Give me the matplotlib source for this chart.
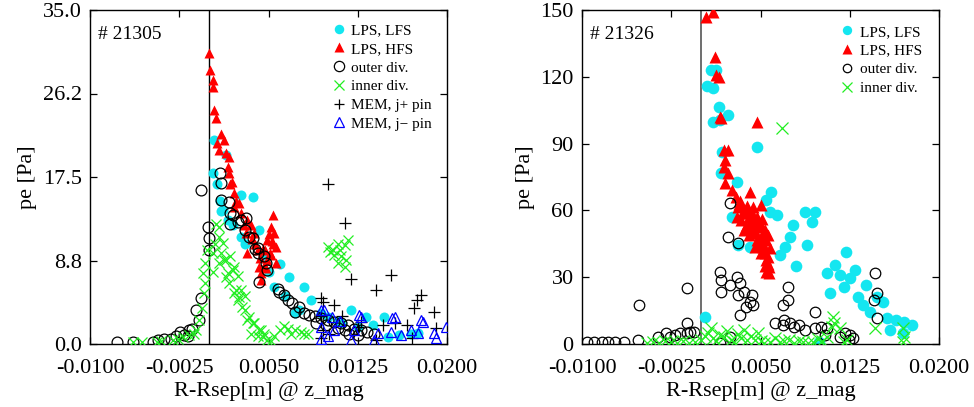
import matplotlib
matplotlib.use("Agg")
import matplotlib.pyplot as plt
from matplotlib.ticker import FixedLocator, FixedFormatter

plt.rcParams['font.family'] = ['Liberation Serif', 'DejaVu Serif']

# ---------------- shot 21305 (left) ----------------
l_lfs_x = [0.0003,0.0004,0.0007,0.0010,0.0012,0.0014,0.0027,0.0037,0.0027,0.0030,0.0042,0.0060,0.0067,0.0080,0.0086,
           0.0072,0.0064,0.0076,0.0094,0.0100,0.0108,0.0119,0.0132,0.0147,0.0150,0.0170,0.0160,0.0125,0.0112,0.0055,
           0.0050,0.0045,0.0020,0.0016,0.0009,0.0176,0.0138]
l_lfs_y = [17.9,21.4,16.8,13.9,14.0,19.8,15.6,15.4,11.2,10.5,11.9,8.4,7.0,6.0,4.6,
           3.2,5.0,3.6,3.3,2.8,2.4,3.6,2.8,2.8,0.7,1.1,0.9,1.8,2.2,6.0,
           7.5,9.0,12.5,13.0,15.0,1.2,2.0]

l_hfs_x = [0.0000,0.0001,0.0003,0.0003,0.0004,0.0006,0.0007,0.0013,0.0008,0.0017,0.0016,0.0017,0.0018,0.0021,0.0021,
           0.0027,0.0032,0.0031,0.0038,0.0032,0.0041,0.0042,0.0044,0.0044,0.0049,0.0049,0.0052,0.0054,0.0055,0.0056,
           0.0056,0.0035,0.0025,0.0047,0.0051,0.0053,0.0046,0.0039,0.0010,0.0014,
           0.0045,0.0048,0.0052,0.0054,0.0050,0.0043,0.0036,0.0029,0.0023,0.0019]
l_hfs_y = [30.5,28.7,27.7,26.9,24.5,23.7,21.1,21.4,20.3,19.6,18.6,17.9,16.8,15.8,14.4,
           13.7,13.0,11.6,11.6,9.5,9.9,8.1,7.4,6.7,8.8,10.9,12.3,13.5,11.6,10.2,
           8.5,12.5,14.8,9.8,9.5,10.8,8.2,10.5,22.0,20.0,
           10.0,8.0,9.3,10.5,11.5,9.0,11.0,12.5,15.0,17.0]

l_out_x = [-0.0077,-0.0064,-0.0047,-0.0043,-0.0038,-0.0032,-0.0028,-0.0024,-0.0021,-0.0018,-0.0017,-0.0014,-0.0011,-0.0008,
           -0.0007,-0.0007,-0.0001,0.0000,0.0000,0.0009,0.0010,0.0010,0.0017,0.0018,0.0018,0.0020,0.0024,0.0027,0.0031,
           0.0030,0.0034,0.0037,0.0039,0.0041,0.0041,0.0046,0.0048,0.0049,0.0042,0.0058,0.0059,0.0063,0.0066,0.0070,
           0.0072,0.0076,0.0080,0.0084,0.0089,0.0094,0.0100,0.0105,0.0111,0.0117,0.0122,0.0128,0.0133,0.0139,0.0118,
           0.0125,0.0090,0.0098,0.0108,0.0114]
l_out_y = [0.2,0.2,0.2,0.4,0.5,0.5,0.8,1.3,0.9,0.8,1.5,1.6,3.6,2.5,
           4.8,16.1,12.3,11.1,9.9,17.9,16.9,15.1,14.9,13.7,12.6,13.5,12.8,13.0,13.2,
           11.9,11.2,11.1,10.0,9.5,10.1,9.2,8.5,7.8,6.5,5.8,5.5,5.1,4.6,4.3,
           3.4,3.9,3.2,3.0,2.9,2.7,2.5,2.3,2.2,2.0,1.6,1.5,1.3,1.1,1.1,
           0.9,2.2,2.0,1.7,1.5]

l_inn_x = [-0.0064,-0.0056,-0.0044,-0.0030,-0.0022,-0.0017,-0.0011,-0.0008,-0.0006,-0.0004,-0.0003,-0.0005,-0.0003,-0.0002,
           -0.0040,-0.0026,-0.0013,
           0.0003,0.0008,0.0008,0.0012,0.0008,0.0014,0.0020,0.0014,0.0017,0.0023,0.0025,0.0028,0.0034,0.0037,0.0042,
           0.0045,0.0006,0.0010,0.0013,0.0018,0.0021,0.0016,0.0024,0.0027,0.0021,0.0030,0.0024,0.0030,0.0032,0.0038,
           0.0044,0.0046,0.0035,0.0041,0.0049,0.0055,0.0060,0.0066,0.0072,0.0077,0.0083,0.0080,0.0069,0.0063,0.0052,
           0.0003,0.0005,
           0.0100,0.0104,0.0108,0.0114,0.0105,0.0111,0.0115,0.0108,0.0114,0.0117,0.0102,0.0110]
l_inn_y = [0.2,0.2,0.2,0.4,0.7,0.9,1.5,2.5,3.8,5.3,6.4,7.4,8.5,9.8,
           0.3,0.5,1.0,
           9.5,12.3,11.2,10.6,8.5,8.8,7.8,7.0,6.4,5.7,4.9,3.9,2.8,2.2,1.5,
           0.7,12.6,9.5,8.8,9.2,8.1,7.4,7.1,5.7,5.3,5.0,4.6,3.6,2.5,2.2,
           1.5,1.1,1.1,0.8,0.4,0.8,1.5,1.6,1.5,1.3,1.1,1.1,1.0,1.9,0.3,
           7.5,10.5,
           10.2,9.9,10.5,10.4,9.3,9.2,8.8,8.5,8.1,10.9,9.6,9.8]

l_memp_x = [0.0100,0.0114,0.0119,0.0153,0.0140,0.0178,0.0175,0.0172,0.0189,0.0191,0.0094,0.0096,0.0105,0.0112,0.0146,
            0.0156,0.0166,0.0171,0.0140,0.0128,0.0096,0.0094,0.0094,0.0101,0.0125]
l_memp_y = [16.8,12.7,6.8,7.2,5.7,5.1,4.6,3.8,3.4,1.7,4.8,4.4,4.1,2.9,2.0,
            2.2,2.0,0.6,0.4,2.3,1.5,0.6,2.9,1.1,1.8]

l_memm_x = [0.0094,0.0097,0.0103,0.0105,0.0094,0.0128,0.0122,0.0142,0.0153,0.0156,0.0161,0.0170,0.0176,0.0180,0.0189,
            0.0191,0.0199,0.0119,0.0139,0.0126,0.0154,0.0178,0.0094,0.0110,0.0100]
l_memm_y = [1.8,3.6,2.8,1.5,0.5,2.8,1.5,1.2,1.3,2.8,0.9,1.5,1.2,2.3,1.2,
            0.6,1.8,0.4,0.4,3.0,2.7,2.5,3.6,2.4,0.8]

# ---------------- shot 21326 (right) ----------------
r_lfs_x = [0.0003,0.0005,0.0008,0.0013,0.0010,0.0015,0.0010,0.0016,0.0023,0.0018,0.0017,0.0030,0.0026,0.0031,0.0041,
           0.0047,0.0059,0.0055,0.0058,0.0064,0.0077,0.0075,0.0071,0.0066,0.0080,0.0087,0.0096,0.0093,0.0089,0.0106,
           0.0108,0.0113,0.0117,0.0120,0.0122,0.0125,0.0129,0.0132,0.0136,0.0139,0.0142,0.0148,0.0153,0.0156,0.0159,
           0.0164,0.0171,0.0177,0.0170,0.0099]
r_lfs_y = [12.3,116,123,123,115,106.6,99.8,100.6,102.8,86.2,76.8,72.9,57.2,44.5,43.6,
           88.6,68.4,64.7,59.4,57.9,53.4,48.2,43.7,40.0,35.0,59.4,59.4,54.9,44.5,31.9,
           22.8,35.5,31.0,25.7,41.5,29.5,33.2,21.3,17.5,26.5,14.5,21.3,19.0,11.5,6.3,
           10.8,10.0,8.5,4.8,1.0]

r_hfs_x = [0.0004,0.0010,0.0012,0.0013,0.0015,0.0016,0.0017,0.0047,0.0019,0.0023,0.0020,0.0019,0.0023,0.0020,0.0026,
           0.0029,0.0041,0.0050,0.0031,0.0030,0.0034,0.0038,0.0036,0.0041,0.0044,0.0047,0.0044,0.0047,0.0045,0.0051,
           0.0054,0.0055,0.0052,0.0054,0.0055,0.0057,0.0055,0.0057,0.0050,0.0033,0.0039,0.0049,0.0053,0.0035,0.0043,
           0.0032,0.0036,0.0040,0.0042,0.0046,0.0048,0.0050,0.0052,0.0053,0.0056,0.0056,0.0054,0.0049,0.0046,0.0043,
           0.0038,0.0040,0.0051,0.0056,0.0058]
r_hfs_y = [147,149.3,129,120.8,120,102,101.3,99.8,87.1,87.1,82.6,79.6,76.6,72.1,69.2,
           66.2,68.4,62.4,61.7,57.2,55.7,58.7,51.2,52.7,61.7,57.2,49.7,46.7,43.7,52.7,
           51.2,46.7,43.7,40.7,37.7,34.7,32.5,31.7,40.7,64.0,62.0,55.0,48.0,59.0,56.0,
           63.0,60.0,57.0,54.0,50.0,53.0,48.0,45.0,42.0,39.0,36.0,35.0,44.0,55.0,59.0,
           53.0,49.0,56.0,49.0,43.0]

r_out_x = [-0.0096,-0.0090,-0.0083,-0.0078,-0.0072,-0.0065,-0.0053,-0.0052,-0.0036,-0.0029,-0.0022,-0.0018,-0.0012,-0.0012,
           -0.0009,-0.0006,-0.0026,-0.0012,0.0024,0.0023,0.0031,0.0016,0.0017,0.0017,0.0024,0.0030,0.0033,0.0031,0.0036,
           0.0043,0.0041,0.0038,0.0044,0.0033,0.0024,0.0016,0.0073,0.0069,0.0073,0.0062,0.0069,0.0075,0.0078,0.0082,
           0.0087,0.0096,0.0096,0.0101,0.0106,0.0104,0.0117,0.0121,0.0125,0.0128,0.0124,0.0146,0.0148,0.0145,0.0148,
           0.0070]
r_out_y = [1.0,1.0,1.0,1.0,1.0,1.0,1.8,17.5,3.3,4.8,4.0,4.8,9.3,25.0,
           5.5,5.5,3.3,4.8,63.2,48.2,45.2,32.5,28.7,23.5,26.5,30.2,27.2,22.0,23.5,
           22.0,19.0,16.8,17.5,13.0,3.3,0.3,25.7,17.5,19.8,9.3,8.5,9.3,7.8,8.5,
           6.3,14.5,7.0,7.8,7.0,4.0,3.3,4.8,4.0,2.5,1.8,31.7,22.8,19.8,11.5,
           10.8]

r_inn_x = [-0.0045,-0.0040,-0.0035,-0.0030,-0.0025,-0.0020,-0.0015,-0.0010,-0.0005,0.0000,0.0003,0.0006,0.0008,0.0010,
           0.0013,0.0016,0.0019,0.0022,0.0025,0.0028,0.0031,0.0034,0.0036,0.0039,0.0042,0.0045,0.0048,0.0050,0.0053,
           0.0058,0.0062,0.0066,0.0070,0.0074,0.0078,0.0082,0.0086,0.0090,0.0094,0.0098,0.0102,0.0106,0.0111,0.0112,
           0.0110,0.0117,0.0120,0.0123,0.0146,0.0170,0.0171,0.0170,0.0068]
r_inn_y = [0.5,1.0,0.3,1.5,0.8,0.5,1.2,0.4,1.0,2.0,3.5,5.0,7.0,2.5,
           1.5,4.0,3.0,6.0,2.0,1.0,4.5,2.5,6.3,1.8,3.5,2.0,4.8,1.2,0.5,
           1.0,2.5,0.8,1.5,2.0,0.6,1.2,0.8,0.5,1.0,2.2,1.5,3.0,12.3,9.3,
           7.5,7.2,1.0,2.0,7.2,7.2,3.3,1.0,96.9]

# ---------------- axes text ----------------
x_ticks = [-0.01, -0.0025, 0.005, 0.0125, 0.02]
x_ticklabels = ['-0.0100', '-0.0025', '0.0050', '0.0125', '0.0200']
l_yticks = [0.0, 8.75, 17.5, 26.25, 35.0]
l_yticklabels = ['0.0', '8.8', '17.5', '26.2', '35.0']
r_yticks = [0, 30, 60, 90, 120, 150]
r_yticklabels = ['0', '30', '60', '90', '120', '150']

CYAN = '#14E6F0'
RED = '#FF0000'
GREEN = '#22EE22'
BLUE = '#0000FF'

fig = plt.figure(figsize=(9.74, 4.07), dpi=100)
axL = fig.add_axes([90/974, 63/407, 357/974, 334/407])
axR = fig.add_axes([582/974, 63/407, 357/974, 334/407])


def style(ax, yticks, ylabels, ymax):
    ax.set_xlim(-0.01, 0.02)
    ax.set_ylim(0, ymax)
    ax.xaxis.set_major_locator(FixedLocator(x_ticks))
    ax.xaxis.set_major_formatter(FixedFormatter(x_ticklabels))
    ax.yaxis.set_major_locator(FixedLocator(yticks))
    ax.yaxis.set_major_formatter(FixedFormatter(ylabels))
    ax.tick_params(direction='in', top=True, right=True, length=5, width=0.9,
                   labelsize=16, pad=6)
    ax.tick_params(axis='x', pad=11)
    for lab in ax.get_xticklabels() + ax.get_yticklabels():
        lab.set_family(['Liberation Serif', 'DejaVu Serif'])
    for s in ax.spines.values():
        s.set_linewidth(1.0)
    ax.set_xlabel('R-Rsep[m] @ z_mag', fontsize=16, labelpad=3)
    ax.set_ylabel('pe [Pa]', fontsize=16, labelpad=4)


# left panel
axL.axvline(0.0, color='black', lw=1.0, zorder=1)
axL.plot(l_lfs_x, l_lfs_y, 'o', color=CYAN, ms=7.2, mec='none', label='LPS, LFS', zorder=2)
axL.plot(l_hfs_x, l_hfs_y, '^', color=RED, ms=7.7, mec='none', label='LPS, HFS', zorder=3)
axL.plot(l_out_x, l_out_y, 'o', mfc='none', mec='black', ms=7.8, mew=0.9, label='outer div.', zorder=4)
axL.plot(l_inn_x, l_inn_y, 'x', color=GREEN, ms=7.8, mew=0.9, label='inner div.', zorder=5)
axL.plot(l_memp_x, l_memp_y, '+', color='black', ms=8, mew=0.9, label='MEM, j+ pin', zorder=6)
axL.plot(l_memm_x, l_memm_y, '^', mfc='none', mec=BLUE, ms=7.6, mew=0.9, label='MEM, j\u2212 pin', zorder=7)
style(axL, l_yticks, l_yticklabels, 35)
axL.text(0.023, 0.928, '# 21305', transform=axL.transAxes, fontsize=14, va='center', ha='left')
axL.legend(loc='upper left', bbox_to_anchor=(0.677, 0.96), frameon=False, fontsize=11,
           handlelength=0.9, handletextpad=0.35, borderpad=0.0, borderaxespad=0.0,
           labelspacing=0.33, markerscale=0.95)

# right panel
axR.axvline(0.0, color='#555555', lw=1.2, zorder=1)
axR.plot(r_lfs_x, r_lfs_y, 'o', color=CYAN, ms=8.4, mec='none', label='LPS, LFS', zorder=2)
axR.plot(r_hfs_x, r_hfs_y, '^', color=RED, ms=8.5, mec='none', label='LPS, HFS', zorder=3)
axR.plot(r_out_x, r_out_y, 'o', mfc='none', mec='black', ms=7.6, mew=0.9, label='outer div.', zorder=4)
axR.plot(r_inn_x, r_inn_y, 'x', color=GREEN, ms=9, mew=0.9, label='inner div.', zorder=5)
style(axR, r_yticks, r_yticklabels, 150)
axR.text(0.023, 0.928, '# 21326', transform=axR.transAxes, fontsize=14, va='center', ha='left')
axR.legend(loc='upper left', bbox_to_anchor=(0.724, 0.955), frameon=False, fontsize=11,
           handlelength=0.9, handletextpad=0.35, borderpad=0.0, borderaxespad=0.0,
           labelspacing=0.33, markerscale=0.8)

fig.savefig('out.png', dpi=100)
